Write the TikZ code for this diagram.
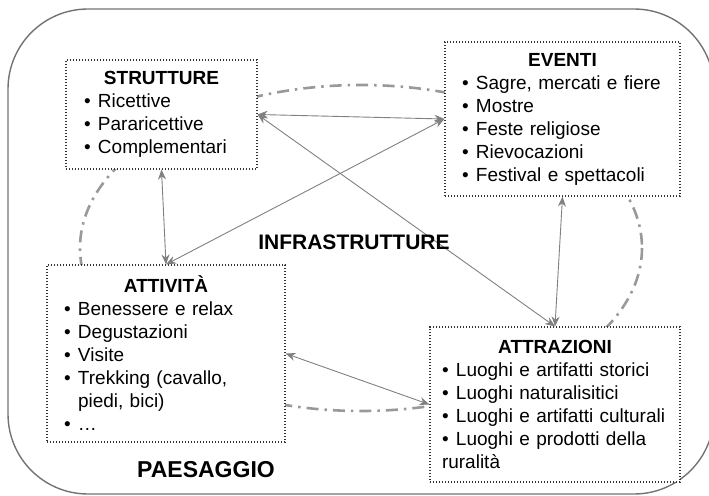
\documentclass[tikz,border=0pt]{standalone}
\usepackage{fontspec}
\setmainfont{Liberation Sans}
\usetikzlibrary{arrows.meta}
\newcommand\voce[1]{\par\hangindent=14pt\hangafter=1\noindent\makebox[14pt][l]{\textbullet}#1}
\newcommand\titolo[1]{{\centering\textbf{#1}\par}}
\tikzset{
 riquadro/.style={draw=black!80,line width=1.1pt,dash pattern=on 1.1pt off 1.9pt,fill=white,inner sep=0pt,align=left,font=\fontsize{19}{23}\selectfont},
 legame/.style={draw=black!50,line width=.9pt,{Stealth[length=10pt,width=8pt]}-{Stealth[length=10pt,width=8pt]}},
 anello/.style={draw=black!40,line width=2.6pt,dash pattern=on 12pt off 6pt on 2.5pt off 6pt},
 cornice/.style={draw=black!55,line width=1.4pt,rounded corners=80pt}
}
\begin{document}
\begin{tikzpicture}[x=1pt,y=-1pt]
 \useasboundingbox (0,0) rectangle (709,495);
 \draw[cornice] (8,9) rectangle (714,494);
 \draw[anello] (361,248) ellipse [x radius=281,y radius=163];
 \node[riquadro,minimum width=191,minimum height=109,text width=155] (strutture) at (161.5,114.5)
  {\titolo{STRUTTURE}\voce{Ricettive}\voce{Pararicettive}\voce{Complementari}};
 \node[riquadro,minimum width=235,minimum height=154,text width=201] (eventi) at (562.5,119)
  {\titolo{EVENTI}\voce{Sagre, mercati e fiere}\voce{Mostre}\voce{Feste religiose}\voce{Rievocazioni}\voce{Festival e spettacoli}};
 \node[riquadro,minimum width=238,minimum height=177,text width=204] (attivita) at (166,353.5)
  {\titolo{ATTIVITÀ}\voce{Benessere e relax}\voce{Degustazioni}\voce{Visite}\voce{Trekking (cavallo,\newline piedi, bici)}\voce{\dots}};
 \node[riquadro,minimum width=250,minimum height=155,text width=226] (attrazioni) at (555,404.5)
  {\titolo{ATTRAZIONI}\voce{Luoghi e artifatti storici}\voce{Luoghi naturalisitici}\voce{Luoghi e artifatti culturali}\voce{Luoghi e prodotti della\newline ruralità}};
 \foreach \a/\b in {strutture.east/eventi.west,strutture.east/attrazioni.north,attivita.north/eventi.west,strutture.south/attivita.north,eventi.south/attrazioni.north,attivita.east/attrazioni.west}{\draw[legame] (\a) -- (\b);}
 \node[font=\fontsize{21}{24}\selectfont\bfseries] (infra) at (354,242.5) {INFRASTRUTTURE};
 \node[font=\fontsize{23}{26}\selectfont\bfseries] (paesaggio) at (206,470) {PAESAGGIO};
\end{tikzpicture}
\end{document}
